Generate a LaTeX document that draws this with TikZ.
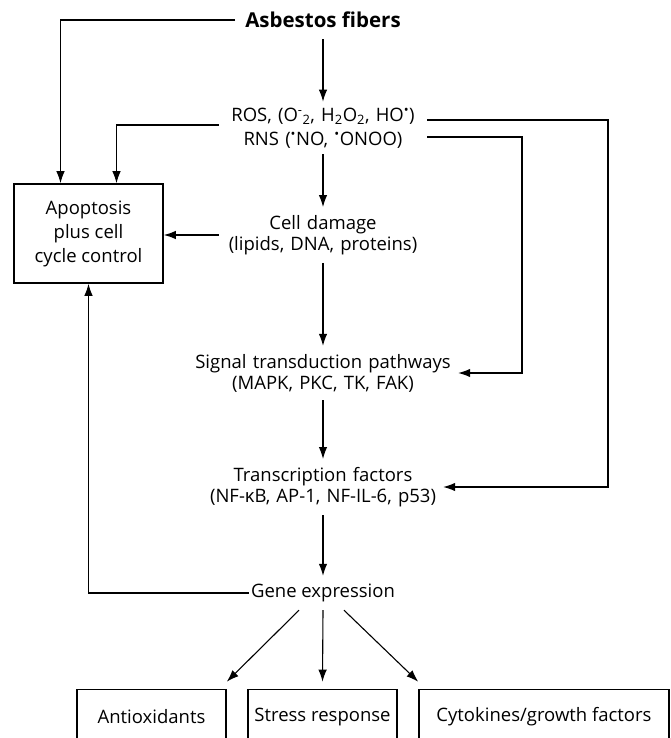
\documentclass[tikz,border=0pt]{standalone}
\usepackage{fontspec}
\setmainfont{Open Sans}
\usetikzlibrary{arrows.meta,positioning,calc}

\begin{document}
\begin{tikzpicture}[x=1pt,y=-1pt,
    every node/.style={font=\fontsize{18.5}{21}\selectfont,align=center},
    txt/.style={inner xsep=4pt,inner ysep=8pt},
    box/.style={draw,line width=1.6pt,minimum width=149pt,inner sep=0pt},
    arr/.style={-{Latex[length=12pt,width=8.5pt]},line width=1.1pt},
    ln/.style={line width=1.1pt}]
    \useasboundingbox (0,0) rectangle (670,738);
    \clip (0,0) rectangle (670,738);

    \node[txt,inner ysep=11pt,font=\fontsize{20.5}{24}\selectfont\bfseries] (asb) at (323,20) {Asbestos fibers};
    \node[txt,text width=200pt,inner ysep=6pt,font=\fontsize{18.5}{24}\selectfont] (ros) at (323,128)
        {ROS, (O\textsuperscript{-}\textsubscript{2}, H\textsubscript{2}O\textsubscript{2}, HO\textsuperscript{\textbullet})\\
         RNS (\textsuperscript{\textbullet}NO, \textsuperscript{\textbullet}ONOO)};
    \node[txt,text width=200pt] (dmg) at (323,235) {Cell damage\\(lipids, DNA, proteins)};
    \node[txt,text width=262pt] (sig) at (323,373) {Signal transduction pathways\\(MAPK, PKC, TK, FAK)};
    \node[txt,text width=250pt] (tf) at (323,487) {Transcription factors\\(NF-κB, AP-1, NF-IL-6, p53)};
    \node[txt,inner xsep=2pt] (gex) at (323,593) {Gene expression};

    \node[box,minimum height=99pt,font=\fontsize{18.5}{24}\selectfont] (apop) at (88.5,233.5) {Apoptosis\\plus cell\\cycle control};

    \node[box,minimum height=55pt] (anti) at (151.5,717) {Antioxidants};
    \node[box,minimum height=55pt] (stress) at (322.5,717) {Stress response};
    \node[box,minimum height=55pt,minimum width=250pt] (cyto) at (544,717) {Cytokines/growth factors};

    \coordinate (rin) at (522,0);
    \coordinate (rout) at (608,0);

    % main chain
    \draw[arr] (asb) -- (ros);
    \draw[arr] (ros) -- (dmg);
    \draw[arr] (dmg) -- (sig);
    \draw[arr] (sig) -- (tf);
    \draw[arr] (tf) -- (gex);

    % into apoptosis box
    \draw[arr] ([xshift=-6pt]asb.west) -| ([xshift=-28pt]apop.north);
    \draw[arr] ([yshift=3pt]ros.west) -| ([xshift=28pt]apop.north);
    \draw[arr] (dmg.west) -- (dmg.west -| apop.east);
    \draw[arr] (gex.west) -| (apop.south);

    % ROS/RNS side loops
    \draw[arr] ([yshift=8pt]ros.east) -| (rout |- tf.east) -- ([xshift=-9pt]tf.east);
    \draw[arr] ([yshift=-9pt]ros.east) -| (rin |- sig.east) -- (sig.east);

    % outputs
    \draw[arr] ([xshift=-24pt]gex.south) -- ($(anti.north east)+(0,-7)$);
    \draw[arr] (gex.south) -- ($(stress.north)+(0,-7)$);
    \draw[arr] ([xshift=21pt]gex.south) -- ($(cyto.north west)+(0,-7)$);
\end{tikzpicture}
\end{document}
